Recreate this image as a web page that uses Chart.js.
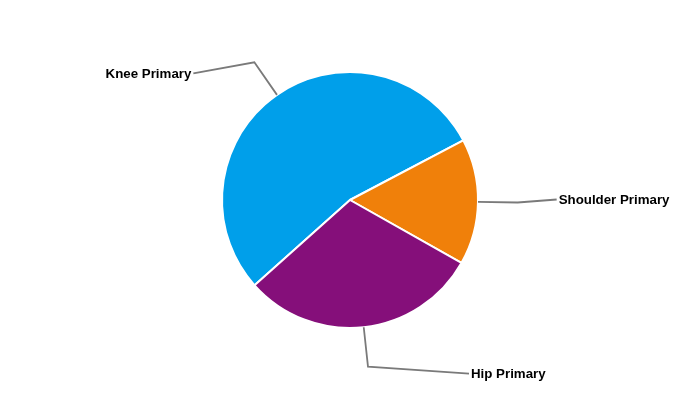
<!DOCTYPE html>
<html>
<head>
<meta charset="utf-8">
<script src="https://cdn.jsdelivr.net/npm/chart.js@4"></script>
<style>
  html, body { margin: 0; padding: 0; background: #fff; }
  canvas { display: block; }
</style>
</head>
<body>
<canvas id="myPieChart" width="700" height="400"></canvas>
<script>
const categories = ['Knee Primary', 'Shoulder Primary', 'Hip Primary'];
const values = [53.9, 15.9, 30.2];
const sliceColors = ['#009FEA', '#F0800A', '#850F7A'];

// where each label sits relative to the elbow of its leader line
const labelOffsets = [
    { dx: -61, dy: 11, align: 'right' },
    { dx: 39, dy: -3, align: 'left' },
    { dx: 101, dy: 7, align: 'left' }
];

const leaderLabels = {
    id: 'leaderLabels',
    afterDatasetsDraw(chart) {
        const ctx = chart.ctx;
        const arcs = chart.getDatasetMeta(0).data;
        ctx.save();
        arcs.forEach((arc, i) => {
            const mid = (arc.startAngle + arc.endAngle) / 2;
            const r = arc.outerRadius;
            const sx = arc.x + Math.cos(mid) * r;
            const sy = arc.y + Math.sin(mid) * r;
            const ex = arc.x + Math.cos(mid) * r * 1.31;
            const ey = arc.y + Math.sin(mid) * r * 1.31;
            const off = labelOffsets[i];
            const lx = ex + off.dx;
            const ly = ey + off.dy;

            ctx.strokeStyle = '#7a7a7a';
            ctx.lineWidth = 1.8;
            ctx.beginPath();
            ctx.moveTo(sx, sy);
            ctx.lineTo(ex, ey);
            ctx.lineTo(lx, ly);
            ctx.stroke();

            ctx.fillStyle = '#000';
            ctx.font = 'bold 13.3px "Liberation Sans", Arial, sans-serif';
            ctx.textBaseline = 'middle';
            ctx.textAlign = off.align;
            ctx.fillText(categories[i], off.align === 'right' ? lx - 2 : lx + 2, ly + 1);
        });
        ctx.restore();
    }
};

const canvas = document.getElementById('myPieChart');
const chart = new Chart(canvas.getContext('2d'), {
    type: 'pie',
    data: {
        labels: categories,
        datasets: [{
            data: values,
            backgroundColor: sliceColors,
            borderColor: '#ffffff',
            borderWidth: 2
        }]
    },
    options: {
        responsive: false,
        animation: false,
        rotation: 228.2,
        layout: { padding: { top: 71, bottom: 71 } },
        plugins: {
            legend: { display: false },
            tooltip: { enabled: false }
        }
    },
    plugins: [leaderLabels]
});
</script>
</body>
</html>
